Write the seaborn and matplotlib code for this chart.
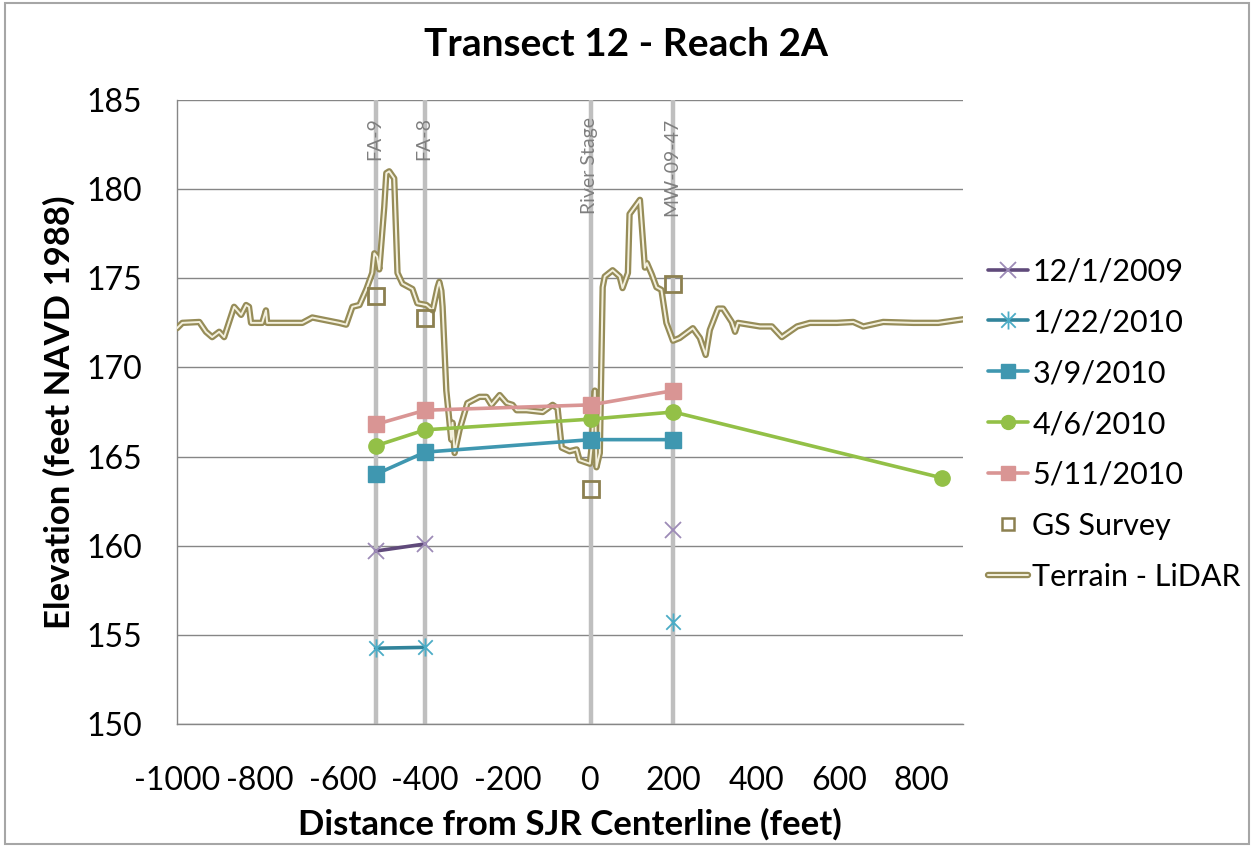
import numpy as np
import matplotlib
matplotlib.use("Agg")
import matplotlib.pyplot as plt
import matplotlib.patheffects as pe
from matplotlib.path import Path
from matplotlib.lines import Line2D
from matplotlib.patches import Rectangle
from matplotlib.transforms import blended_transform_factory
import seaborn as sns

# ---------------- data ----------------
well_names = ["FA-9", "FA-8", "River Stage", "MW-09-47"]
well_x = [-520, -400, 0, 200]

obs_x = [-520, -400, 0, 200]
obs_x_ext = [-520, -400, 0, 200, 850]
wl_2009_12_01 = [159.7, 160.1, np.nan, 160.9]
wl_2010_01_22 = [154.25, 154.3, np.nan, 155.7]
wl_2010_03_09 = [164.0, 165.25, 165.95, 165.95]
wl_2010_04_06 = [165.6, 166.5, 167.1, 167.5, 163.8]
wl_2010_05_11 = [166.8, 167.6, 167.9, 168.7]

gs_x = [-520, -400, 0, 200]
gs_y = [174.0, 172.8, 163.2, 174.7]

terrain_x = [-1000, -987, -946, -930, -915, -898, -886, -862, -845, -833, -826, -821,
             -794, -785, -782, -697, -673, -608, -591, -576, -559, -542, -528, -523,
             -516, -511, -499, -494, -487, -475, -467, -455, -431, -419, -397, -382,
             -370, -366, -361, -358, -349, -337, -334, -329, -317, -298, -269, -252,
             -240, -220, -203, -189, -179, -155, -116, -92, -80, -70, -51, -34, -27,
             -2, 2, 10, 14, 22, 29, 34, 53, 70, 77, 90, 94, 119, 131, 136, 148, 159,
             171, 183, 199, 215, 247, 264, 278, 288, 308, 320, 341, 349, 356, 409,
             438, 462, 499, 530, 595, 635, 659, 707, 780, 840, 900]
terrain_y = [172.2, 172.5, 172.55, 172.0, 171.7, 172.0, 171.7, 173.4, 172.95, 173.5, 173.4, 172.5,
             172.5, 173.2, 172.5, 172.5, 172.8, 172.5, 172.4, 173.4, 173.5, 174.4, 175.3, 176.4,
             176.2, 175.5, 179.0, 180.9, 181.0, 180.6, 175.3, 174.7, 174.4, 173.6, 173.5, 173.2,
             174.5, 174.8, 174.3, 173.4, 168.7, 165.95, 166.9, 165.2, 166.5, 168.0, 168.35, 168.35,
             167.9, 168.45, 168.0, 167.9, 167.6, 167.6, 167.5, 167.9, 167.7, 165.5, 165.3, 165.4, 164.8,
             164.6, 165.5, 168.7, 164.4, 165.2, 174.5, 175.1, 175.45, 175.1, 174.45, 175.3, 178.6, 179.4,
             175.6, 175.85, 175.2, 174.5, 174.35, 172.5, 171.5, 171.65, 172.2, 171.65, 170.7, 172.1,
             173.3, 173.3, 172.55, 172.0, 172.5, 172.3, 172.3, 171.7, 172.3, 172.5, 172.5, 172.55,
             172.3, 172.55, 172.5, 172.5, 172.7]

x_ticks = [-1000, -800, -600, -400, -200, 0, 200, 400, 600, 800]
y_ticks = [150, 155, 160, 165, 170, 175, 180, 185]

title = "Transect 12 - Reach 2A"
xlabel = "Distance from SJR Centerline (feet)"
ylabel = "Elevation (feet NAVD 1988)"

# ---------------- style ----------------
sns.set_theme(style="white")
plt.rcParams["font.family"] = ["Lato", "DejaVu Sans"]
plt.rcParams["axes.unicode_minus"] = False
plt.rcParams["text.color"] = "black"
plt.rcParams["axes.labelcolor"] = "black"

fig = plt.figure(figsize=(12.52, 8.47), dpi=100)
fig.patch.set_facecolor("white")
ax = fig.add_axes([177 / 1252, 1 - 724 / 847, (963 - 177) / 1252, (724 - 100) / 847])

grid_c = "#868686"
ax.set_xlim(-1000, 900)
ax.set_ylim(150, 185)
ax.set_xticks(x_ticks)
ax.set_yticks(y_ticks)
ax.yaxis.grid(True, color=grid_c, lw=1.0)
ax.xaxis.grid(False)
ax.set_axisbelow(True)
for s in ["top", "right"]:
    ax.spines[s].set_visible(False)
for s in ["left", "bottom"]:
    ax.spines[s].set_color(grid_c)
    ax.spines[s].set_linewidth(1.0)
ax.tick_params(axis="both", which="major", direction="out", length=8, width=1.0,
               color=grid_c, labelsize=23, labelcolor="black")
ax.tick_params(axis="y", pad=17)
ax.tick_params(axis="x", pad=22)

# vertical well lines with labels
trans = blended_transform_factory(ax.transData, ax.transAxes)
for name, xv in zip(well_names, well_x):
    ax.axvline(xv, color="#BFBFBF", lw=3.2, zorder=1.5)
    ax.text(xv - 3, 0.972, name, transform=trans, rotation=90, ha="center", va="top",
            fontsize=14, color="#7F7F7F", zorder=2)

# terrain (double line)
terrain_fx = [pe.Stroke(linewidth=4.6, foreground="#968C58"), pe.Normal()]
sns.lineplot(x=terrain_x, y=terrain_y, sort=False, estimator=None, ax=ax,
             color="#F4F1DE", linewidth=1.4, path_effects=terrain_fx, zorder=3, legend=False)

# survey points
ax.plot(gs_x, gs_y, ls="none", marker="s", ms=12, mfc="none", mec="#8C8050", mew=2.0, zorder=5)

# asterisk marker
ast = Path([(-1, -1), (1, 1), (-1, 1), (1, -1), (0, -1.25), (0, 1.25)],
           [Path.MOVETO, Path.LINETO, Path.MOVETO, Path.LINETO, Path.MOVETO, Path.LINETO])

ax.plot(obs_x, wl_2009_12_01, color="#604A7B", lw=2.6, marker="x", ms=11, mec="#9D8BB7",
        mew=1.3, zorder=4)
ax.plot(obs_x, wl_2010_01_22, color="#31849B", lw=2.6, marker=ast, ms=13, mec="#4BACC6",
        mew=1.3, zorder=4)
ax.plot(obs_x, wl_2010_03_09, color="#3F97B0", lw=2.6, marker="s", ms=11, mfc="#3F97B0",
        mec="#3F97B0", zorder=4)
ax.plot(obs_x_ext, wl_2010_04_06, color="#93C047", lw=2.6, marker="o", ms=11, mfc="#93C047",
        mec="#93C047", zorder=4)
ax.plot(obs_x, wl_2010_05_11, color="#D99594", lw=2.6, marker="s", ms=11, mfc="#D99594",
        mec="#D99594", zorder=4)

# labels
ax.set_xlabel(xlabel, fontsize=25, fontweight="bold", labelpad=9, color="black")
ax.set_ylabel(ylabel, fontsize=25, fontweight="bold", labelpad=8, color="black")
fig.text(0.5, 1 - 45 / 847, title, ha="center", va="center", fontsize=28, fontweight="bold",
         color="black")

# legend
handles = [
    Line2D([], [], color="#604A7B", lw=2.6, marker="x", ms=11, mec="#9D8BB7", mew=1.3),
    Line2D([], [], color="#31849B", lw=2.6, marker=ast, ms=13, mec="#4BACC6", mew=1.3),
    Line2D([], [], color="#3F97B0", lw=2.6, marker="s", ms=10, mfc="#3F97B0", mec="#3F97B0"),
    Line2D([], [], color="#93C047", lw=2.6, marker="o", ms=10, mfc="#93C047", mec="#93C047"),
    Line2D([], [], color="#D99594", lw=2.6, marker="s", ms=10, mfc="#D99594", mec="#D99594"),
    Line2D([], [], ls="none", marker="s", ms=8, mfc="none", mec="#8C8050", mew=1.8),
    Line2D([], [], color="#F4F1DE", lw=1.4, path_effects=terrain_fx),
]
labels = ["12/1/2009", "1/22/2010", "3/9/2010", "4/6/2010", "5/11/2010", "GS Survey",
          "Terrain - LiDAR"]
fig.legend(handles, labels, loc="center left", bbox_to_anchor=(988 / 1252, 1 - 424 / 847),
           frameon=False, fontsize=22, handlelength=1.3, handletextpad=0.15,
           labelspacing=0.75, borderpad=0, borderaxespad=0)

fig.add_artist(Rectangle((5 / 1252, 3 / 847), 1244 / 1252, 841 / 847, transform=fig.transFigure,
                         fill=False, ec="#A6A6A6", lw=1.5))

fig.savefig("out.png", dpi=100)
